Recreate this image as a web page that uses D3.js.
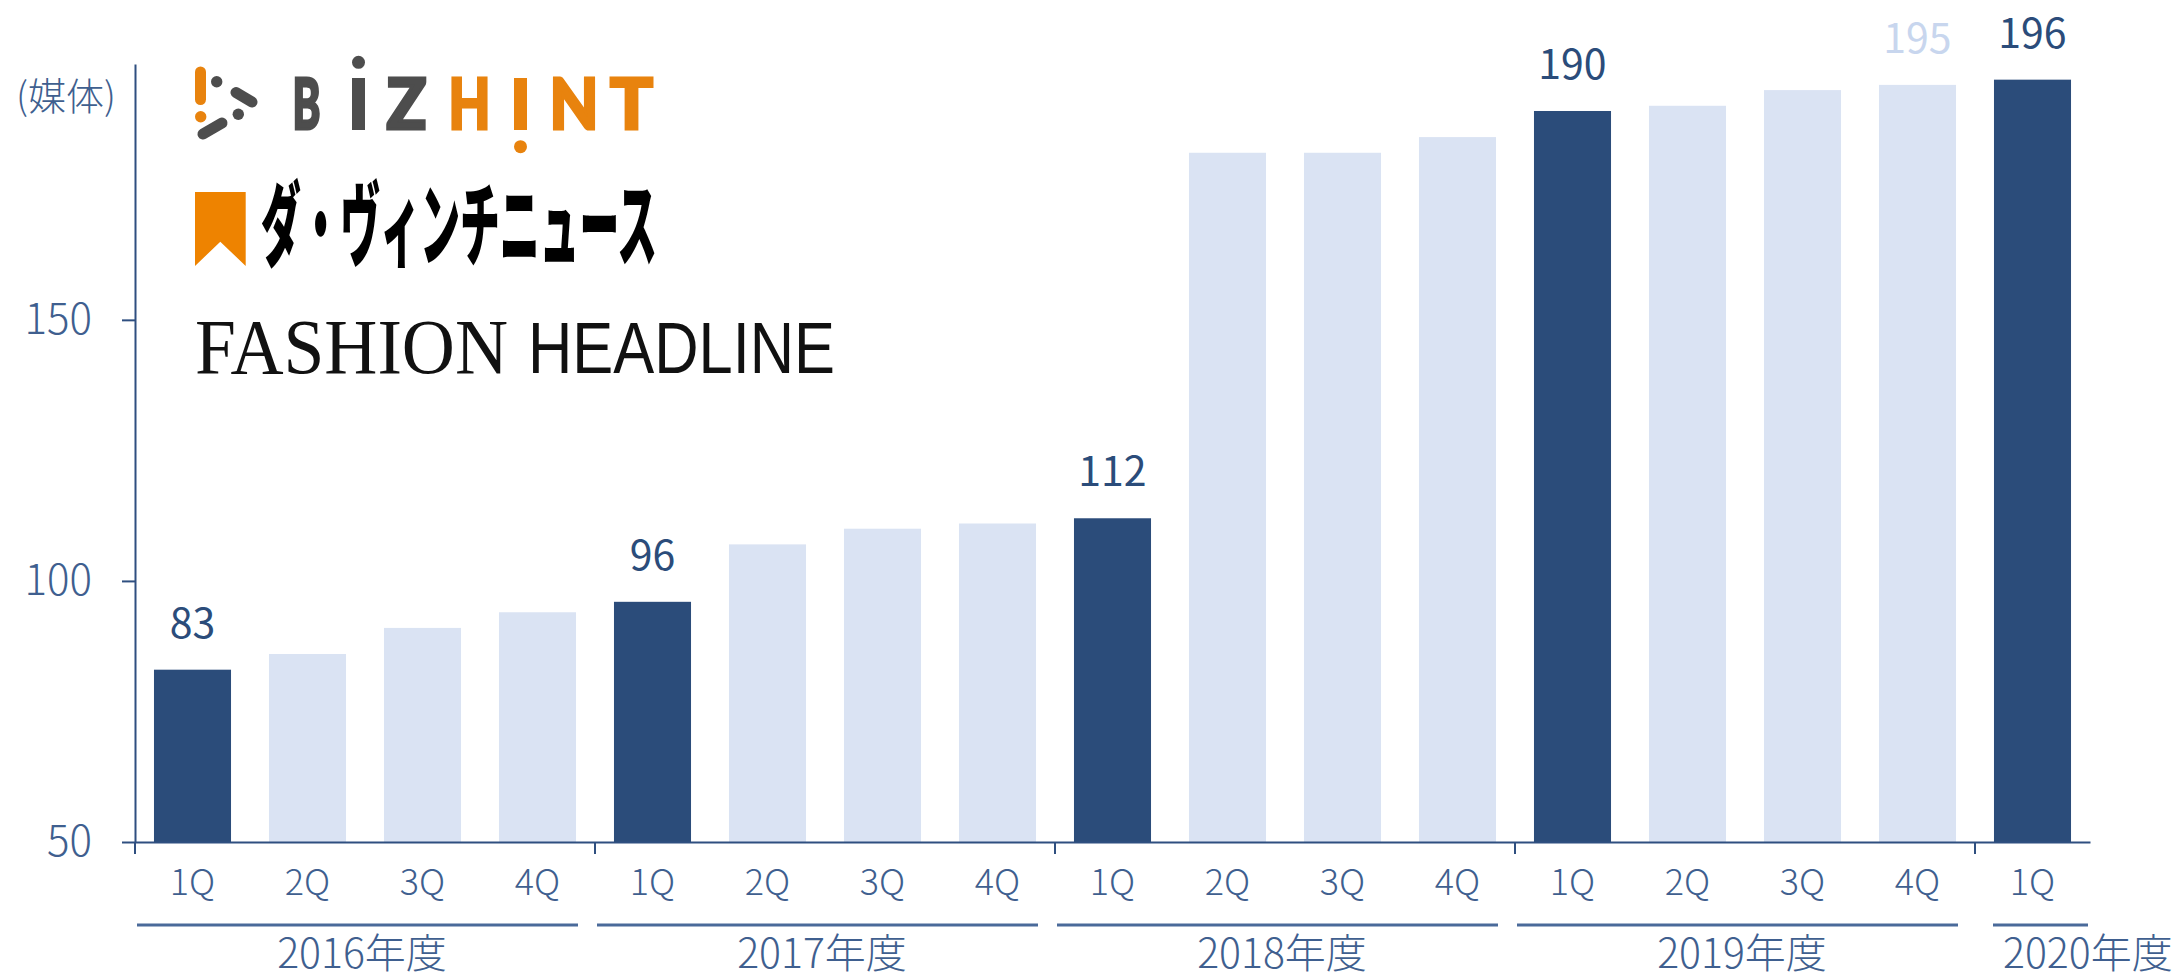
<!DOCTYPE html>
<html lang="ja">
<head>
<meta charset="utf-8">
<script src="https://cdn.jsdelivr.net/npm/d3@7"></script>
<style>
  body { margin: 0; background: #fff; }
  svg { font-family: "Noto Sans CJK JP", "Noto Sans", sans-serif; }
</style>
</head>
<body>
<svg id="chart"></svg>
<script>
var width = 2183, height = 980;

// data
var quarters = ["1Q", "2Q", "3Q", "4Q", "1Q", "2Q", "3Q", "4Q", "1Q", "2Q", "3Q", "4Q", "1Q", "2Q", "3Q", "4Q", "1Q"];
var fiscalYears = ["2016年度", "2016年度", "2016年度", "2016年度",
  "2017年度", "2017年度", "2017年度", "2017年度",
  "2018年度", "2018年度", "2018年度", "2018年度",
  "2019年度", "2019年度", "2019年度", "2019年度",
  "2020年度"];
var mediaCounts = [83, 86, 91, 94, 96, 107, 110, 111, 112, 182, 182, 185, 190, 191, 194, 195, 196];
var labeledBars = [0, 4, 8, 12, 15, 16];
var yTicks = [50, 100, 150];
var yUnit = "(媒体)";

var dark = "#2b4c7a", light = "#dae3f3", axisColor = "#2f4f80", textColor = "#3f5f8f";
var orange = "#e8830e", gray = "#4d4d4d";

var svg = d3.select("#chart")
  .attr("width", width)
  .attr("height", height);

var x = d3.scaleBand()
  .domain(d3.range(mediaCounts.length))
  .range([135, 2090])
  .paddingInner(0.33)
  .paddingOuter(0.165);

var y = d3.scaleLinear()
  .domain([50, 199])
  .range([842, 64]);

var gap = x.step() - x.bandwidth();

// bars
svg.selectAll("rect.bar")
  .data(mediaCounts)
  .enter()
  .append("rect")
    .attr("class", "bar")
    .attr("x", (d, i) => x(i))
    .attr("y", d => y(d))
    .attr("width", x.bandwidth())
    .attr("height", d => y(50) - y(d))
    .attr("fill", (d, i) => quarters[i] === "1Q" ? dark : light);

// value labels
svg.selectAll("text.value")
  .data(labeledBars)
  .enter()
  .append("text")
    .attr("class", "value")
    .attr("x", i => x(i) + x.bandwidth() / 2)
    .attr("y", i => y(mediaCounts[i]) - 32)
    .attr("text-anchor", "middle")
    .attr("font-size", 41)
    .attr("fill", i => quarters[i] === "1Q" ? dark : "#c8d6ee")
    .text(i => mediaCounts[i]);

// y axis
var yAxis = svg.append("g")
  .attr("transform", "translate(135,0)")
  .call(d3.axisLeft(y).tickValues(yTicks).tickSize(13).tickPadding(30).tickSizeOuter(0));

// x axis with quarter labels
var xAxis = svg.append("g")
  .attr("transform", "translate(0," + y(50) + ")")
  .call(d3.axisBottom(x).tickFormat(i => quarters[i]).tickSize(0).tickPadding(27).tickSizeOuter(0));

[yAxis, xAxis].forEach(function(g) {
  g.select(".domain").attr("stroke", axisColor).attr("stroke-width", 2);
  g.selectAll(".tick line").attr("stroke", axisColor).attr("stroke-width", 2);
  g.selectAll(".tick text")
    .attr("fill", textColor)
    .attr("font-family", "Noto Sans CJK JP")
    .attr("font-weight", 300);
});
yAxis.selectAll(".tick text").attr("font-size", 42);
xAxis.selectAll(".tick text").attr("font-size", 36);

svg.append("text")
  .attr("x", 16)
  .attr("y", 110)
  .attr("font-size", 38)
  .attr("font-weight", 300)
  .attr("fill", textColor)
  .text(yUnit);

// fiscal year groups
var groups = d3.groups(d3.range(mediaCounts.length), i => fiscalYears[i]);

groups.forEach(function(g) {
  var first = g[1][0], last = g[1][g[1].length - 1];
  var start = x(first) - gap / 2;
  var end = x(last) + x.bandwidth() + gap / 2;
  var partial = g[1].length < 4;
  var x1 = partial ? start + 18 : start + 2;
  var x2 = partial ? end - 2 : end - 17;

  svg.append("line")
    .attr("x1", start).attr("x2", start)
    .attr("y1", y(50)).attr("y2", y(50) + 12)
    .attr("stroke", axisColor)
    .attr("stroke-width", 2);

  svg.append("line")
    .attr("x1", x1).attr("x2", x2)
    .attr("y1", 925).attr("y2", 925)
    .attr("stroke", "#4a6a9a")
    .attr("stroke-width", 3);

  svg.append("text")
    .attr("x", partial ? x1 + 10 : (start + end) / 2 - 3)
    .attr("y", 968)
    .attr("text-anchor", partial ? "start" : "middle")
    .attr("font-size", 41)
    .attr("font-weight", 300)
    .attr("fill", textColor)
    .text(g[0]);
});

// logos
var bizhint = svg.append("g");
function capsule(g, x1, y1, x2, y2, color) {
  g.append("line")
    .attr("x1", x1).attr("y1", y1).attr("x2", x2).attr("y2", y2)
    .attr("stroke", color).attr("stroke-width", 11).attr("stroke-linecap", "round");
}
function dot(g, cx, cy, r, color) {
  g.append("circle").attr("cx", cx).attr("cy", cy).attr("r", r).attr("fill", color);
}
capsule(bizhint, 200.5, 72, 200.5, 99.5, orange);
dot(bizhint, 200.7, 116.7, 5.7, orange);
dot(bizhint, 216.7, 81.7, 5.7, gray);
capsule(bizhint, 236, 92.5, 252, 102, gray);
dot(bizhint, 238.3, 114.3, 5.7, gray);
capsule(bizhint, 203, 134, 222, 123, gray);

function letter(g, ch, lx, w, color) {
  g.append("text")
    .attr("x", lx + 1.5).attr("y", 128.5)
    .attr("font-family", "Lato, 'DejaVu Sans', sans-serif")
    .attr("font-weight", 900)
    .attr("font-size", 70)
    .attr("textLength", w - 3)
    .attr("lengthAdjust", "spacingAndGlyphs")
    .attr("fill", color)
    .attr("stroke", color)
    .attr("stroke-width", 3)
    .attr("stroke-linejoin", "miter")
    .text(ch);
}
letter(bizhint, "B", 291, 31, gray);
bizhint.append("rect").attr("x", 352).attr("y", 78).attr("width", 13).attr("height", 52).attr("fill", gray);
dot(bizhint, 358.5, 62.3, 6.5, gray);
letter(bizhint, "Z", 385, 43, gray);
letter(bizhint, "H", 447, 45, orange);
bizhint.append("rect").attr("x", 514).attr("y", 78).attr("width", 13).attr("height", 52).attr("fill", orange);
dot(bizhint, 520.5, 146.7, 6.5, orange);
letter(bizhint, "N", 548, 52, orange);
letter(bizhint, "T", 608.5, 46, orange);

var davinci = svg.append("g");
davinci.append("path")
  .attr("d", "M195,192H245.7V266L220.3,241.7L195,266Z")
  .attr("fill", "#ee8300");
davinci.append("text")
  .attr("x", 261).attr("y", 259)
  .attr("font-size", 92)
  .attr("font-weight", 900)
  .attr("textLength", 396)
  .attr("lengthAdjust", "spacingAndGlyphs")
  .attr("fill", "#000")
  .text("ダ・ヴィンチニュース");

var fashion = svg.append("g");
fashion.append("text")
  .attr("x", 195).attr("y", 373)
  .attr("font-family", "'Liberation Serif', serif")
  .attr("font-size", 78)
  .attr("textLength", 313)
  .attr("lengthAdjust", "spacingAndGlyphs")
  .attr("fill", "#111")
  .text("FASHION");
fashion.append("text")
  .attr("x", 528).attr("y", 373)
  .attr("font-family", "'Liberation Sans', sans-serif")
  .attr("font-size", 72)
  .attr("textLength", 307)
  .attr("lengthAdjust", "spacingAndGlyphs")
  .attr("fill", "#111")
  .text("HEADLINE");
</script>
</body>
</html>
